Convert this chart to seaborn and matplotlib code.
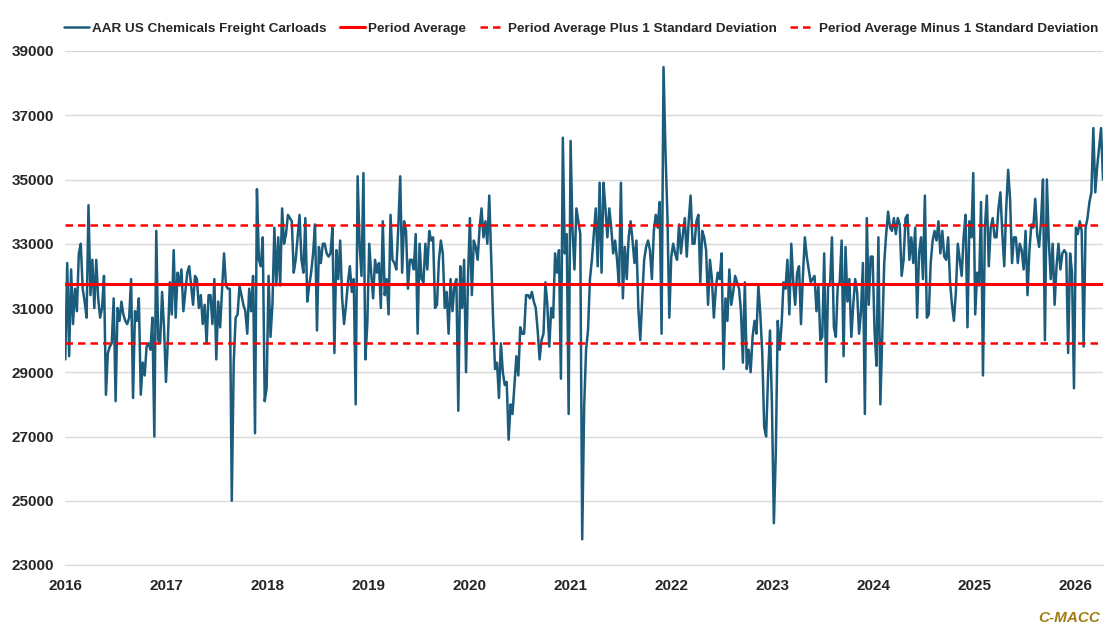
import numpy as np
import pandas as pd
import matplotlib
matplotlib.use("Agg")
import matplotlib.pyplot as plt
import matplotlib.dates as mdates
import seaborn as sns

# weekly AAR chemicals carloads, split by (roughly) year
carloads_2016 = [29400, 32400, 29500, 32200, 30500, 31600, 30900, 32700, 33000, 31600, 31200, 30700, 34200,
                 31400, 32500, 31000, 32500, 31300, 30700, 31000, 32000, 28300, 29600, 29800, 29900, 31300,
                 28100, 31000, 30600, 31200, 30800, 30600, 30500, 30700, 31900, 28200, 30900, 30600, 31300,
                 28300, 29300, 28900, 29800, 29900, 29700, 30700, 27000, 33400, 30000, 29900, 31500, 30400]
carloads_2017 = [28700, 30000, 31800, 30800, 32800, 30700, 32100, 31700, 32200, 30900, 31500, 32100, 32300,
                 31700, 31100, 32000, 31900, 31000, 31400, 30500, 31100, 29900, 31400, 31400, 30500, 31900,
                 29400, 31200, 30400, 31600, 32700, 31700, 31600, 31600, 25000, 29300, 30700, 30800, 31700,
                 31400, 31100, 30900, 30200, 31600, 30900, 32000, 27100, 34700, 32500, 32300, 33200, 28100]
carloads_2018 = [28500, 32000, 30100, 31100, 33500, 31700, 33200, 31700, 34100, 33000, 33300, 33900, 33800,
                 33700, 32100, 32500, 33200, 33900, 32500, 32100, 33800, 31200, 31700, 32100, 32700, 33600,
                 30300, 32900, 32400, 33000, 33000, 32700, 32600, 32700, 33500, 29600, 32800, 31900, 33100,
                 31300, 30500, 31100, 31800, 32300, 31500, 31900, 28000, 35100, 33000, 32000, 35200, 29400]
carloads_2019 = [30500, 33000, 32100, 31300, 32500, 32100, 32400, 31000, 33700, 31400, 31900, 30800, 33900,
                 32500, 32400, 32200, 33500, 35100, 32100, 33700, 33400, 31600, 32500, 32500, 32200, 33300,
                 30200, 33000, 31900, 31800, 33000, 32200, 33400, 33100, 33200, 31000, 31100, 32500, 33100,
                 32700, 31000, 31500, 30200, 31900, 30900, 31700, 31900, 27800, 32300, 31000, 32500, 29000]
carloads_2020 = [31900, 33800, 31400, 33100, 32900, 32500, 33500, 34100, 33200, 33700, 33000, 34500, 32600,
                 30600, 29100, 29300, 28200, 29900, 29000, 28600, 28700, 26900, 28000, 27700, 28600, 29500,
                 28900, 30400, 30200, 30200, 31400, 31400, 31300, 31500, 31200, 31000, 30300, 29400, 30000,
                 30200, 31800, 31100, 29800, 31000, 30700, 32700, 32100, 32800, 28800, 36300, 32700, 33300,
                 27700, 36200]
carloads_2021 = [33400, 32200, 34100, 33700, 33300, 23800, 27900, 29700, 30300, 31900, 32500, 33300, 34100,
                 32300, 34900, 32100, 34900, 34100, 33200, 34100, 33500, 32700, 33100, 32500, 31700, 34900,
                 31300, 32900, 31900, 33200, 33700, 33100, 32400, 33100, 31000, 30000, 31300, 32500, 32900,
                 33100, 32800, 31900, 33400, 33900, 33500, 34300, 30200, 38500, 35900, 33900, 30700, 32600,
                 33000]
carloads_2022 = [32700, 32500, 33600, 32700, 33300, 33800, 32600, 33700, 34500, 33000, 33000, 33700, 33900,
                 31800, 33400, 33200, 32800, 31100, 32500, 31900, 30700, 31600, 32100, 31900, 32700, 29100,
                 31300, 30600, 32200, 31100, 31500, 32000, 31800, 31600, 30900, 29300, 31800, 29100, 29700,
                 29000, 30100, 30600, 30200, 31700, 30800, 29600, 27300, 27000, 28900, 30300, 28000, 24300]
carloads_2023 = [26500, 30600, 29700, 30500, 31800, 31600, 32500, 30800, 33000, 31800, 31100, 32100, 32300,
                 30500, 32000, 33200, 32600, 32200, 31800, 31900, 32000, 30900, 31700, 30000, 30100, 32700,
                 28700, 31700, 31700, 33200, 30400, 30100, 31700, 31800, 33100, 29500, 32900, 31200, 31900,
                 30100, 31100, 31900, 31500, 30200, 30900, 32400, 27700, 33800, 31100, 32600, 32600]
carloads_2024 = [30300, 29200, 33200, 28000, 30200, 32400, 33300, 34000, 33500, 33400, 33800, 33300, 33800,
                 33600, 32000, 32500, 33800, 33900, 32500, 33200, 32400, 33500, 30700, 32700, 33200, 31900,
                 34500, 30700, 30800, 32400, 33100, 33400, 33100, 33700, 32700, 33400, 32600, 32500, 33200,
                 31800, 31100, 30600, 31500, 33000, 32500, 32000, 33200, 33900, 30400, 33700, 33200, 35200]
carloads_2025 = [30800, 32100, 31700, 34300, 28900, 33500, 34500, 32300, 33500, 33800, 33200, 33200, 34100,
                 34600, 33300, 32300, 34100, 35300, 34400, 32400, 33200, 33200, 32400, 33000, 32800, 32200,
                 33400, 31400, 32800, 33600, 33500, 34400, 33300, 32900, 33700, 35000, 30000, 35000, 33100,
                 31900, 33000, 31100, 32300, 33000, 32200, 32700, 32800, 32700, 29600, 32700, 32100]
carloads_2026 = [28500, 33500, 33300, 33700, 33400, 29800, 33500, 33800, 34300, 34600, 36600, 34600, 35400,
                 36000, 36600, 35000]

# period stats as drawn on the chart
period_avg = 31740
period_sd = 1830

values = (carloads_2016 + carloads_2017 + carloads_2018 + carloads_2019 + carloads_2020 + carloads_2021
          + carloads_2022 + carloads_2023 + carloads_2024 + carloads_2025 + carloads_2026)
dates = pd.date_range("2016-01-02", periods=len(values), freq="7D")
df = pd.DataFrame({"Week": dates, "Carloads": values})

sns.set_style("white")
plt.rcParams["font.family"] = ["Liberation Sans", "DejaVu Sans"]
plt.rcParams["font.weight"] = "bold"

fig, ax = plt.subplots(figsize=(11.2, 6.39), dpi=100)
fig.subplots_adjust(left=65 / 1120, right=1103 / 1120, top=1 - 51 / 639, bottom=1 - 565 / 639)

sns.lineplot(data=df, x="Week", y="Carloads", ax=ax, color="#1b5b7b", linewidth=1.8,
             label="AAR US Chemicals Freight Carloads")
ax.axhline(period_avg, color="#ff0000", linewidth=2.2, label="Period Average")
ax.axhline(period_avg + period_sd, color="#ff0000", linewidth=1.8, linestyle=(0, (3, 2)),
           label="Period Average Plus 1 Standard Deviation")
ax.axhline(period_avg - period_sd, color="#ff0000", linewidth=1.8, linestyle=(0, (3, 2)),
           label="Period Average Minus 1 Standard Deviation")

ax.set_ylim(23000, 39000)
ax.set_yticks(np.arange(23000, 39001, 2000))
ax.set_xlim(pd.Timestamp("2016-01-01"), dates[-1])
ax.xaxis.set_major_locator(mdates.YearLocator())
ax.xaxis.set_major_formatter(mdates.DateFormatter("%Y"))
ax.set_xlabel("")
ax.set_ylabel("")
ax.grid(axis="y", color="#d9d9d9", linewidth=1)
for s in ["left", "right", "top"]:
    ax.spines[s].set_visible(False)
ax.spines["bottom"].set_color("#d9d9d9")
ax.tick_params(axis="x", length=4, color="#d9d9d9", labelsize=11, pad=6)
ax.tick_params(axis="y", length=0, labelsize=11, pad=8)
for lab in ax.get_xticklabels() + ax.get_yticklabels():
    lab.set_fontweight("bold")

ax.legend(loc="center", bbox_to_anchor=(0.497, 1.043), ncol=4, frameon=False,
          handlelength=1.85, handletextpad=0.25, columnspacing=1.0, prop={"weight": "bold", "size": 9.7})

fig.text(1100 / 1120, 1 - 618 / 639, "C-MACC", color="#a07c12", fontsize=11, fontweight="bold",
         fontstyle="italic", ha="right", va="center")

fig.savefig("out.png", dpi=100, facecolor="white")
